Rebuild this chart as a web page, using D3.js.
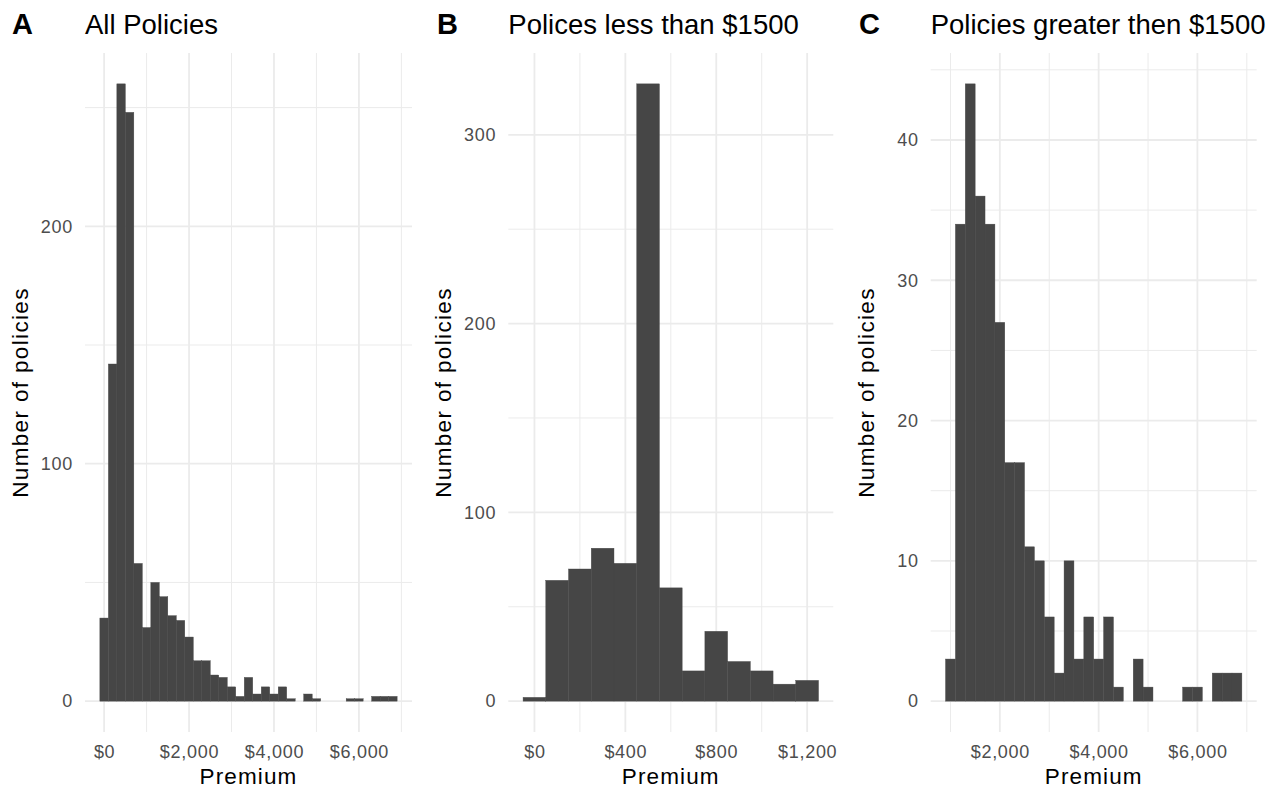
<!DOCTYPE html>
<html>
<head>
<meta charset="utf-8">
<script src="https://cdn.jsdelivr.net/npm/d3@7"></script>
<style>
  html, body { margin: 0; padding: 0; background: #fff; }
  svg { display: block; }
  text { font-family: "Liberation Sans", Arial, Helvetica, sans-serif; }
</style>
</head>
<body>
<svg id="chart" width="1283" height="791"></svg>
<script>
// ---- Histogram data: counts per bin, plus each histogram's binning ----
const allCounts  = [35, 142, 260, 248, 58, 31, 50, 44, 36, 34, 27, 17, 17, 11, 10, 6, 2, 10,
                    3, 6, 3, 6, 1, 0, 3, 1, 0, 0, 0, 1, 1, 0, 2, 2, 2];
const allBinStart = -100, allBinWidth = 200;

const lowCounts  = [2, 64, 70, 81, 73, 327, 60, 16, 37, 21, 16, 9, 11];
const lowBinStart = -50, lowBinWidth = 100;

const highCounts = [3, 34, 44, 36, 34, 27, 17, 17, 11, 10, 6, 2, 10, 3, 6, 3, 6, 1, 0, 3,
                    1, 0, 0, 0, 1, 1, 0, 2, 2, 2];
const highBinStart = 900, highBinWidth = 200;

// ---- Labels and tick values ----
const panelTags   = ["A", "B", "C"];
const panelTitles = ["All Policies", "Polices less than $1500", "Policies greater then $1500"];
const xAxisTitle  = "Premium";
const yAxisTitle  = "Number of policies";

const xMajorAll  = [0, 2000, 4000, 6000];
const xMinorAll  = [1000, 3000, 5000, 7000];
const yMajorAll  = [0, 100, 200];
const yMinorAll  = [50, 150, 250];

const xMajorLow  = [0, 400, 800, 1200];
const xMinorLow  = [200, 600, 1000];
const yMajorLow  = [0, 100, 200, 300];
const yMinorLow  = [50, 150, 250];

const xMajorHigh = [2000, 4000, 6000];
const xMinorHigh = [1000, 3000, 5000, 7000];
const yMajorHigh = [0, 10, 20, 30, 40];
const yMinorHigh = [5, 15, 25, 35, 45];

// ---- Layout ----
const TOP = 53, BOTTOM = 732;
const panels = [
  { counts: allCounts,  start: allBinStart,  width: allBinWidth,
    xMajor: xMajorAll,  xMinor: xMinorAll,  yMajor: yMajorAll,  yMinor: yMinorAll,
    left: 85,    right: 412,   tagX: 12 },
  { counts: lowCounts,  start: lowBinStart,  width: lowBinWidth,
    xMajor: xMajorLow,  xMinor: xMinorLow,  yMajor: yMajorLow,  yMinor: yMinorLow,
    left: 508.3, right: 833.3, tagX: 437 },
  { counts: highCounts, start: highBinStart, width: highBinWidth,
    xMajor: xMajorHigh, xMinor: xMinorHigh, yMajor: yMajorHigh, yMinor: yMinorHigh,
    left: 930.7, right: 1256.7, tagX: 859 }
];

const GRID = "#ebebeb";
const BAR = "#464646";
const dollar = d3.format("$,");

const svg = d3.select("#chart");
svg.append("rect").attr("width", 1283).attr("height", 791).attr("fill", "#fff");

panels.forEach((p, i) => {
  const g = svg.append("g");
  const n = p.counts.length;
  const bins = p.counts.map((c, k) => ({ x0: p.start + k * p.width, x1: p.start + (k + 1) * p.width, count: c }));
  const lo = bins[0].x0, hi = bins[n - 1].x1;
  const padX = 0.05 * (hi - lo);
  const yMax = d3.max(p.counts);

  const x = d3.scaleLinear().domain([lo - padX, hi + padX]).range([p.left, p.right]);
  const y = d3.scaleLinear().domain([-0.05 * yMax, 1.05 * yMax]).range([BOTTOM, TOP]);

  // minor grid
  g.selectAll(".vminor").data(p.xMinor).join("line")
    .attr("x1", d => x(d)).attr("x2", d => x(d)).attr("y1", TOP).attr("y2", BOTTOM)
    .attr("stroke", GRID).attr("stroke-width", 1);
  g.selectAll(".hminor").data(p.yMinor).join("line")
    .attr("x1", p.left).attr("x2", p.right).attr("y1", d => y(d)).attr("y2", d => y(d))
    .attr("stroke", GRID).attr("stroke-width", 1);
  // major grid
  g.selectAll(".vmajor").data(p.xMajor).join("line")
    .attr("x1", d => x(d)).attr("x2", d => x(d)).attr("y1", TOP).attr("y2", BOTTOM)
    .attr("stroke", GRID).attr("stroke-width", 1.8);
  g.selectAll(".hmajor").data(p.yMajor).join("line")
    .attr("x1", p.left).attr("x2", p.right).attr("y1", d => y(d)).attr("y2", d => y(d))
    .attr("stroke", GRID).attr("stroke-width", 1.8);

  // bars
  g.selectAll(".bar").data(bins.filter(b => b.count > 0)).join("rect")
    .attr("x", d => x(d.x0))
    .attr("width", d => x(d.x1) - x(d.x0))
    .attr("y", d => y(d.count))
    .attr("height", d => y(0) - y(d.count))
    .attr("fill", BAR)
    .attr("stroke", BAR).attr("stroke-width", 0.4);

  // x axis labels
  const xa = g.append("g").attr("transform", `translate(0,${BOTTOM})`)
    .call(d3.axisBottom(x).tickValues(p.xMajor).tickFormat(dollar).tickSize(0).tickPadding(13.5));
  xa.select(".domain").remove();
  xa.selectAll("text").attr("fill", "#4d4d4d").attr("font-size", 18)
    .style("letter-spacing", "0.04em").attr("font-family", null);

  // y axis labels
  const ya = g.append("g").attr("transform", `translate(${p.left},0)`)
    .call(d3.axisLeft(y).tickValues(p.yMajor).tickFormat(d3.format("d")).tickSize(0).tickPadding(12));
  ya.select(".domain").remove();
  ya.selectAll("text").attr("fill", "#4d4d4d").attr("font-size", 18)
    .style("letter-spacing", "0.04em").attr("font-family", null);

  // axis titles
  g.append("text")
    .attr("x", (p.left + p.right) / 2).attr("y", 784)
    .attr("text-anchor", "middle").attr("font-size", 22.5)
    .style("letter-spacing", "0.05em")
    .attr("fill", "#000").text(xAxisTitle);
  g.append("text")
    .attr("transform", `translate(${p.left - 57},${(TOP + BOTTOM) / 2}) rotate(-90)`)
    .attr("text-anchor", "middle").attr("font-size", 22.5)
    .style("letter-spacing", "0.06em")
    .attr("fill", "#000").text(yAxisTitle);

  // tag and title
  g.append("text")
    .attr("x", p.tagX).attr("y", 34)
    .attr("font-size", 29).attr("font-weight", "bold")
    .attr("fill", "#000").text(panelTags[i]);
  g.append("text")
    .attr("x", p.left).attr("y", 34)
    .attr("font-size", 27.5)
    .attr("fill", "#000").text(panelTitles[i]);
});
</script>
</body>
</html>
